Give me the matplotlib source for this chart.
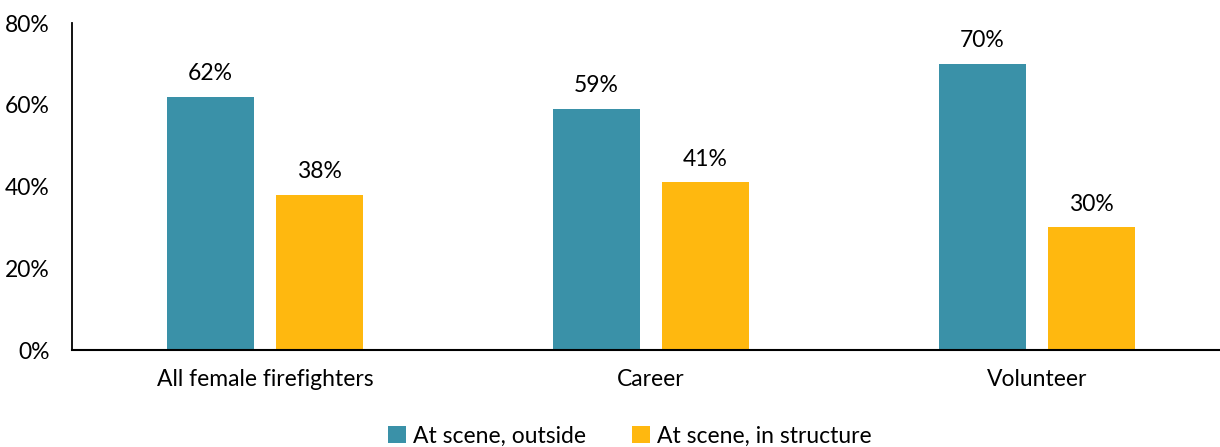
import matplotlib.pyplot as plt
import numpy as np

plt.rcParams['font.family'] = ['Lato', 'DejaVu Sans']

groups = ['All female firefighters', 'Career', 'Volunteer']
outside = [62, 59, 70]
in_structure = [38, 41, 30]
series_names = ['At scene, outside', 'At scene, in structure']
yticks = [0, 20, 40, 60, 80]

teal = '#3A91A8'
gold = '#FFB80F'

fig = plt.figure(figsize=(12.2, 4.47), dpi=100)
ax = fig.add_axes([0.059, 0.217, 0.941, 0.7315])

x = np.arange(len(groups))
w = 0.225
off = 0.141
b1 = ax.bar(x - off, outside, w, color=teal, label=series_names[0])
b2 = ax.bar(x + off, in_structure, w, color=gold, label=series_names[1])

for bars, vals in ((b1, outside), (b2, in_structure)):
    for rect, v in zip(bars, vals):
        ax.annotate(f'{v}%', (rect.get_x() + rect.get_width() / 2, v),
                    xytext=(0, 9), textcoords='offset points',
                    ha='center', va='bottom', fontsize=16.5)

ax.set_xlim(-0.5, 2.474)
ax.set_ylim(0, 80)
ax.set_yticks(yticks)
ax.set_yticklabels([f'{t}%' for t in yticks])
ax.set_xticks(x)
ax.set_xticklabels(groups)
ax.tick_params(axis='both', length=0, labelsize=16.5)
ax.tick_params(axis='y', pad=16)
ax.tick_params(axis='x', pad=14)

for s in ('top', 'right'):
    ax.spines[s].set_visible(False)
ax.spines['left'].set_linewidth(1.3)
ax.spines['bottom'].set_linewidth(1.5)

fig.legend(loc='center', bbox_to_anchor=(630 / 1220, 1 - 436 / 447),
           ncol=2, frameon=False, fontsize=16.5, handlelength=0.8,
           handleheight=0.8, handletextpad=0.3, columnspacing=2.0)

fig.savefig('out.png', dpi=100)
